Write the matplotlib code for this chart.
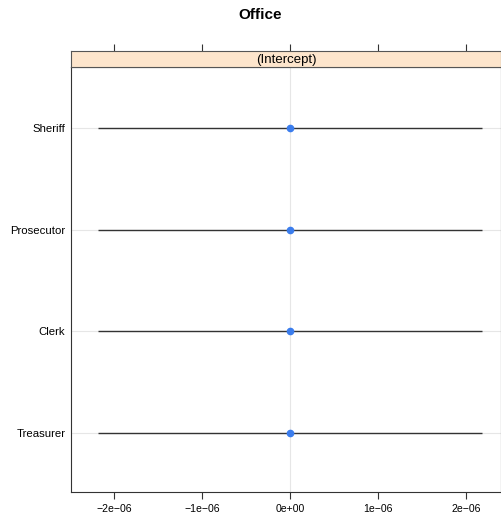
import matplotlib
matplotlib.use('Agg')
import matplotlib.pyplot as plt

plt.rcParams['font.family'] = ['Liberation Sans', 'DejaVu Sans']

# random effect estimates (all ~0) with interval half-widths
offices = ['Treasurer', 'Clerk', 'Prosecutor', 'Sheriff']
estimates = [0.0, 0.0, 0.0, 0.0]
lower = [-2.18e-6, -2.18e-6, -2.18e-6, -2.18e-6]
upper = [2.18e-6, 2.18e-6, 2.18e-6, 2.18e-6]
xticks = [-2e-6, -1e-6, 0, 1e-6, 2e-6]
xticklabels = ['\u22122e\u221206', '\u22121e\u221206', '0e+00', '1e\u221206', '2e\u221206']

W, H = 501, 521
fig = plt.figure(figsize=(W/100, H/100), dpi=100)

L, R = 71/W, 1.0
B, T = 1 - 492/H, 1 - 67/H
ST = 1 - 51/H

ax = fig.add_axes([L, B, R-L, T-B])
strip = fig.add_axes([L, T, R-L, ST-T])

ys = list(range(1, len(offices)+1))
xlim = (-2.49e-6, 2.40e-6)

# grid
for y in ys:
    ax.axhline(y, color='#e6e6e6', lw=0.8, zorder=0)
ax.axvline(0, color='#e6e6e6', lw=0.8, zorder=0)

ax.hlines(ys, lower, upper, color='#333333', lw=1.0, zorder=2)
ax.plot(estimates, ys, 'o', color='#3b7ded', ms=4.5, mec='#3b7ded', zorder=3)

ax.set_xlim(xlim)
ax.set_ylim(0.42, 4.6)
ax.set_yticks(ys)
ax.set_yticklabels(offices, fontsize=8.2)
ax.tick_params(axis='y', length=0, pad=4)
ax.set_xticks(xticks)
ax.set_xticklabels(xticklabels, fontsize=7.6)
ax.tick_params(axis='x', direction='out', length=5, width=0.8, color='#333333', pad=4)
for s in ax.spines.values():
    s.set_color('#333333')
    s.set_linewidth(0.8)

strip.set_xlim(xlim)
strip.set_ylim(0, 1)
strip.set_facecolor('#fde5cc')
strip.text(0.5, 0.45, '(Intercept)', transform=strip.transAxes, ha='center', va='center', fontsize=9.5)
strip.set_yticks([])
strip.set_xticks(xticks)
strip.tick_params(axis='x', top=True, bottom=False, labeltop=False, labelbottom=False,
                  direction='out', length=5, width=0.8, color='#333333')
for s in strip.spines.values():
    s.set_color('#555555')
    s.set_linewidth(0.8)

fig.text(260/W, 1 - 15/H, 'Office', ha='center', va='center', fontsize=11, fontweight='bold')

fig.savefig('out.png', dpi=100, facecolor='white')
